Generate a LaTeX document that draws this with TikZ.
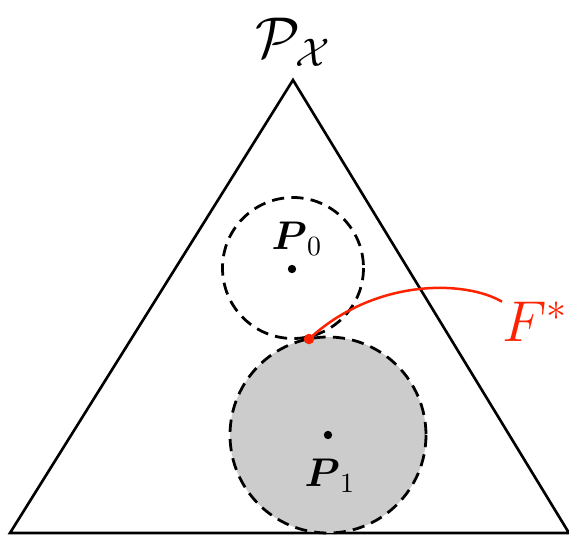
\documentclass[tikz,border=0pt]{standalone}
\usepackage{amsmath}
\usepackage{amssymb}
\usetikzlibrary{positioning,calc}
\definecolor{FRed}{HTML}{FF2200}
\definecolor{BallGray}{HTML}{CCCCCC}

\begin{document}
\begin{tikzpicture}[x=0.36pt,y=-0.36pt,
    simplex/.style={draw=black,line width=0.95pt,line join=miter},
    ball/.style={draw=black,dashed,dash pattern=on 4.4pt off 2.6pt,line width=1pt},
    centre/.style={circle,fill=black,inner sep=0pt,minimum size=3pt},
    lbl/.style={inner sep=0pt}]
  \useasboundingbox (0,0) rectangle (569,537);
  % triangle
  \coordinate (top) at (293,80);
  \coordinate (bl)  at (10,533);
  \coordinate (br)  at (569,533);
  \draw[simplex] (bl) -- (top) -- (br) -- cycle;
  \node[lbl,font=\fontsize{22}{24}\selectfont] (px) at (293,42) {$\mathcal{P}_{\mathcal{X}}$};
  % balls
  \draw[ball] (293,268) circle (70.5);
  \draw[ball,fill=BallGray] (328,435) circle (98);
  \node[centre] (p0) at (292,269) {};
  \node[centre] (p1) at (328,435) {};
  \node[lbl,font=\Large] (p0l) at (297,239) {$\boldsymbol{P}_0$};
  \node[lbl,font=\Large] (p1l) at (330,476) {$\boldsymbol{P}_1$};
  % optimum
  \node[circle,fill=FRed,inner sep=0pt,minimum size=3.8pt] (fstar) at (309,339) {};
  \node[lbl,font=\huge,text=FRed,anchor=west] (fl) at (502,322) {$F^*$};
  \draw[FRed,line width=0.9pt] (fstar.center) .. controls (375,278) and (465,280) .. (fl.north west);
\end{tikzpicture}
\end{document}
